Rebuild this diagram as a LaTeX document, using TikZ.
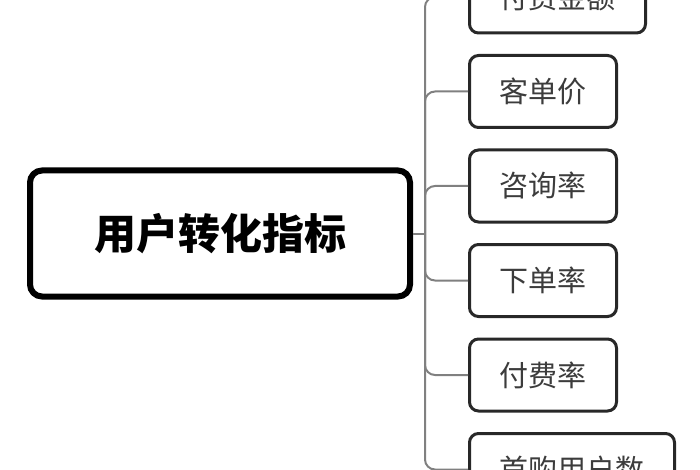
\documentclass[tikz,border=0pt]{standalone}
\usepackage{fontspec}
\newfontfamily\cjk{Noto Sans CJK SC}
\usetikzlibrary{positioning}
\definecolor{mmdark}{RGB}{40,40,40}
\definecolor{mmtext}{RGB}{60,60,60}
\definecolor{mmline}{RGB}{128,128,128}
\tikzstyle{rootbox} = [rectangle, rounded corners=12pt, minimum width=380pt, minimum height=126pt, text centered, draw=black, line width=6pt, fill=white, font=\cjk\bfseries\fontsize{42}{50}\selectfont]
\tikzstyle{leaf} = [rectangle, rounded corners=9pt, minimum height=72pt, inner xsep=30pt, text centered, draw=mmdark, line width=3pt, fill=white, text=mmtext, font=\cjk\fontsize{29}{34}\selectfont]
\tikzstyle{branch} = [line width=2pt, color=mmline, rounded corners=10pt]

\begin{document}
\begin{tikzpicture}[x=1pt, y=-1pt]
\useasboundingbox (0,0) rectangle (700,470);
% Root
\node (root) [rootbox] at (220,233.5) {用户转化指标};
\coordinate (trunk) at (425,233.5);

% Leaves
\node (ffje) [leaf, anchor=west] at (468,-3) {付费金额};
\node (kdj) [leaf, below=19.5pt of ffje.south west, anchor=north west] {客单价};
\node (zxl) [leaf, below=19.5pt of kdj.south west, anchor=north west] {咨询率};
\node (xdl) [leaf, below=19.5pt of zxl.south west, anchor=north west] {下单率};
\node (ffl) [leaf, below=19.5pt of xdl.south west, anchor=north west] {付费率};
\node (sgyh) [leaf, below=19.5pt of ffl.south west, anchor=north west] {首购用户数};

% Connectors
\draw[branch] (root.east) -- (trunk);
\draw[branch] (trunk) |- (ffje.west);
\draw[branch] (trunk) |- (kdj.west);
\draw[branch] (trunk) |- (zxl.west);
\draw[branch] (trunk) |- (xdl.west);
\draw[branch] (trunk) |- (ffl.west);
\draw[branch] (trunk) |- (sgyh.west);
\end{tikzpicture}
\end{document}
